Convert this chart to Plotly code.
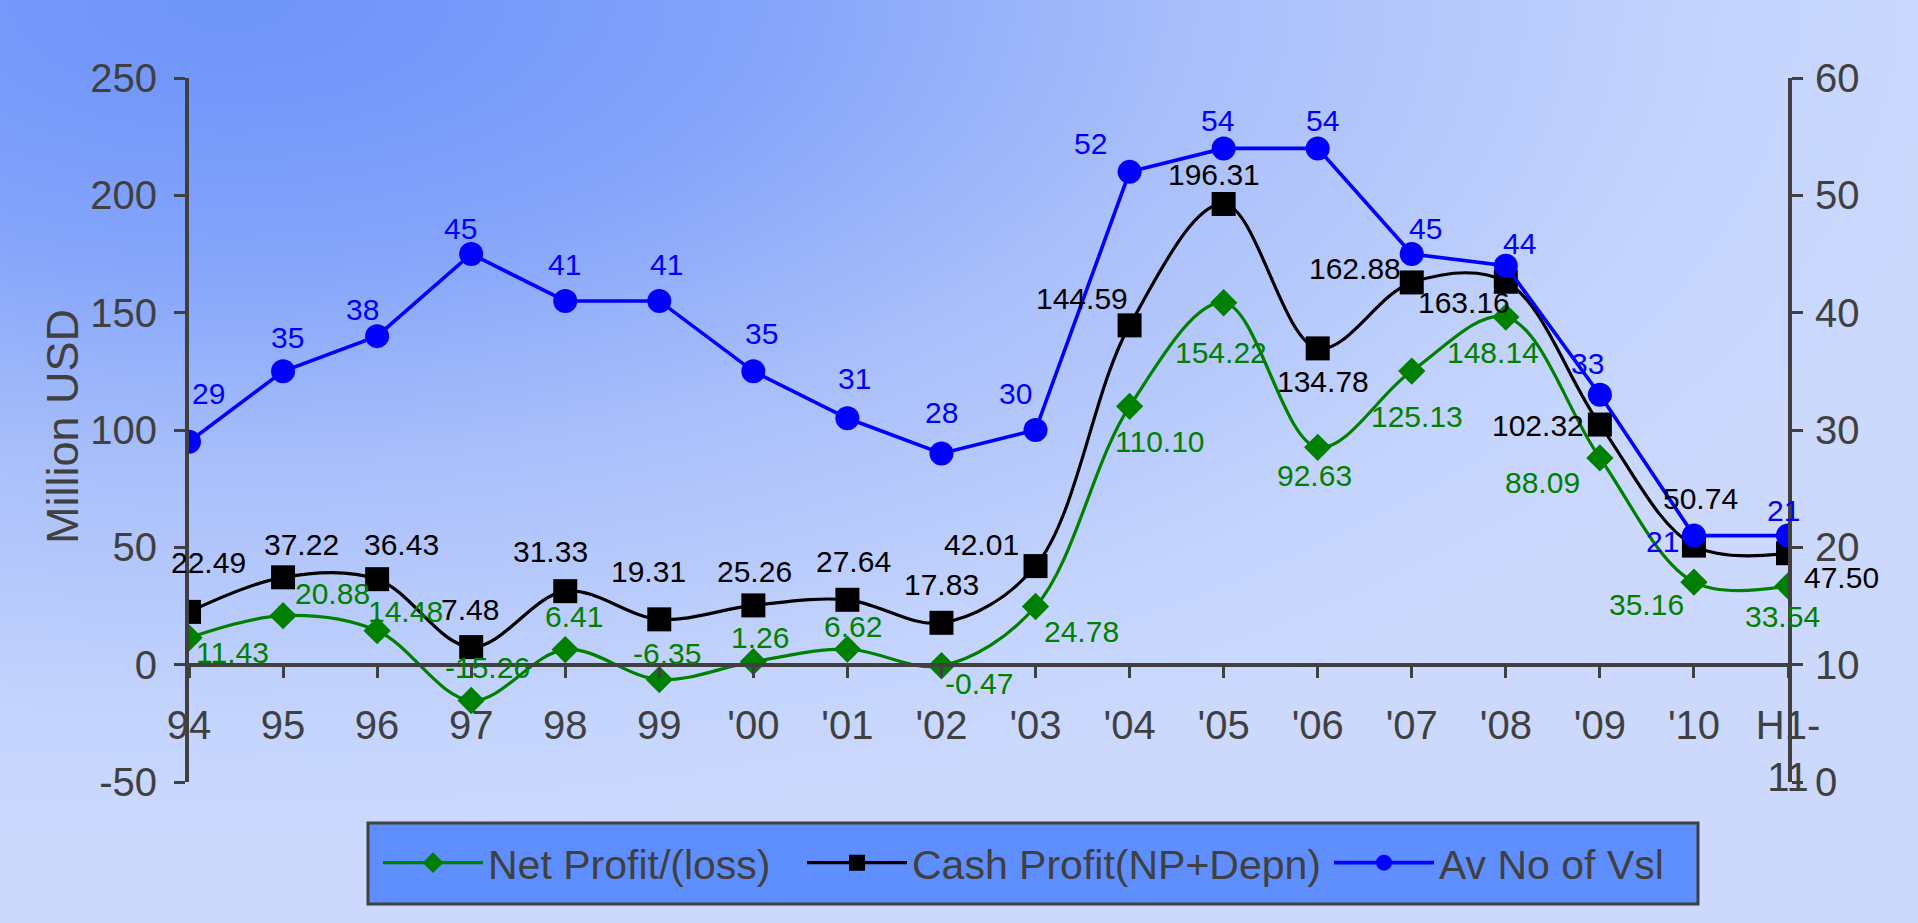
import base64
import plotly.graph_objects as go

# ---- data -------------------------------------------------------------
categories = ["94", "95", "96", "97", "98", "99", "'00", "'01", "'02", "'03",
              "'04", "'05", "'06", "'07", "'08", "'09", "'10", "H1-11"]
net_profit = [11.43, 20.88, 14.48, -15.26, 6.41, -6.35, 1.26, 6.62, -0.47, 24.78,
              110.10, 154.22, 92.63, 125.13, 148.14, 88.09, 35.16, 33.54]
cash_profit = [22.49, 37.22, 36.43, 7.48, 31.33, 19.31, 25.26, 27.64, 17.83, 42.01,
               144.59, 196.31, 134.78, 162.88, 163.16, 102.32, 50.74, 47.50]
vessels = [29, 35, 38, 45, 41, 41, 35, 31, 28, 30, 52, 54, 54, 45, 44, 33, 21, 21]

left_ticks = [-50, 0, 50, 100, 150, 200, 250]
right_ticks = [0, 10, 20, 30, 40, 50, 60]
tick_labels = [c.replace("H1-", "H1-<br>") for c in categories]

# ---- data-label placement (pixel offsets from each point: dx right, dy down)
net_label_offsets = [(43, 15), (49, -22), (28, -19), (16, -33), (9, -33), (8, -26),
                     (7, -24), (6, -23), (38, 18), (46, 25), (30, 35), (-3, 50),
                     (-3, 28), (5, 45), (-13, 35), (-57, 25), (-47, 22), (-6, 31)]
cash_label_offsets = [(19, -49), (18, -33), (24, -35), (-1, -38), (-15, -40), (-11, -48),
                      (1, -34), (6, -38), (0, -38), (-54, -22), (-48, -27), (-10, -29),
                      (5, 33), (-57, -14), (-42, 21), (-62, 1), (7, -47), (53, 24)]
vessel_label_offsets = [(19, -48), (4, -34), (-15, -27), (-11, -26), (-1, -36), (7, -36),
                        (8, -38), (7, -40), (0, -41), (-20, -37), (-39, -28), (-6, -28),
                        (5, -28), (14, -26), (14, -22), (-12, -31), (-31, 6), (-5, -25)]

# ---- styling ----------------------------------------------------------
W, H = 1918, 923
M_L, M_R, M_T, M_B = 189, 130, 78, 141
AXIS_GREY = "#404040"
FONT = "Arial, Liberation Sans, sans-serif"
GREEN, BLACK, BLUE = "#008000", "#000000", "#0000FF"
LABEL_SIZE = 30

# soft blue radial wash behind the whole chart
bg_svg = (
    '<svg xmlns="http://www.w3.org/2000/svg" width="1918" height="923" '
    'viewBox="0 0 1918 923" preserveAspectRatio="none">'
    '<defs><radialGradient id="g" cx="0.12" cy="0" fx="0.12" fy="0" r="0.92">'
    '<stop offset="0" stop-color="#6f94f8"/>'
    '<stop offset="0.12" stop-color="#7499fa"/>'
    '<stop offset="0.3" stop-color="#84a4fa"/>'
    '<stop offset="0.55" stop-color="#a9bffb"/>'
    '<stop offset="0.85" stop-color="#c4d4fd"/>'
    '<stop offset="1" stop-color="#ccd9fd"/>'
    '</radialGradient></defs>'
    '<rect x="0" y="0" width="1918" height="923" fill="url(#g)"/></svg>'
)
bg_src = "data:image/svg+xml;base64," + base64.b64encode(bg_svg.encode()).decode()

plot_w = W - M_L - M_R
plot_h = H - M_T - M_B
plot_bottom = H - M_B
zero_frac = (0 - left_ticks[0]) / (left_ticks[-1] - left_ticks[0])


def px_x(px):
    """pixel column -> paper x"""
    return (px - M_L) / plot_w


def px_y(py):
    """pixel row -> paper y"""
    return (plot_bottom - py) / plot_h


fig = go.Figure()

fig.add_trace(go.Scatter(
    x=categories, y=net_profit, name="Net Profit/(loss)", mode="lines+markers",
    line=dict(color=GREEN, width=3.2, shape="spline", smoothing=1),
    marker=dict(symbol="diamond", size=21, color=GREEN),
    xaxis="x", yaxis="y", hoverinfo="skip", legend="legend",
))
fig.add_trace(go.Scatter(
    x=categories, y=cash_profit, name="Cash Profit(NP+Depn)", mode="lines+markers",
    line=dict(color=BLACK, width=3.2, shape="spline", smoothing=1),
    marker=dict(symbol="square", size=24, color=BLACK),
    xaxis="x", yaxis="y", hoverinfo="skip", legend="legend2",
))
fig.add_trace(go.Scatter(
    x=categories, y=vessels, name="Av No of Vsl", mode="lines+markers",
    line=dict(color=BLUE, width=3.6),
    marker=dict(symbol="circle", size=24, color=BLUE),
    xaxis="x", yaxis="y2", hoverinfo="skip", legend="legend3",
))

annotations = []


def add_labels(values, offsets, color, yref, fmt):
    for i, (v, (dx, dy)) in enumerate(zip(values, offsets)):
        annotations.append(dict(
            x=i, y=v, xref="x", yref=yref, text=fmt(v), showarrow=False,
            xshift=dx, yshift=-dy, xanchor="center", yanchor="middle",
            font=dict(family=FONT, size=LABEL_SIZE, color=color),
        ))


add_labels(net_profit, net_label_offsets, GREEN, "y", lambda v: f"{v:.2f}")
add_labels(cash_profit, cash_label_offsets, BLACK, "y", lambda v: f"{v:.2f}")
add_labels(vessels, vessel_label_offsets, BLUE, "y2", lambda v: f"{v:d}")

# left axis title
annotations.append(dict(
    text="Million USD", xref="paper", yref="paper", x=px_x(62), y=px_y(427),
    textangle=-90, showarrow=False, xanchor="center", yanchor="middle",
    font=dict(family=FONT, size=45, color=AXIS_GREY),
))

axis_common = dict(showgrid=False, zeroline=False, tickcolor=AXIS_GREY, tickwidth=3,
                   ticklen=11, tickfont=dict(family=FONT, size=40, color=AXIS_GREY))

legend_common = dict(
    orientation="h", xanchor="left", yanchor="middle", y=px_y(863),
    bgcolor="rgba(0,0,0,0)", borderwidth=0,
    font=dict(family=FONT, size=41, color=AXIS_GREY),
    itemwidth=100, itemsizing="trace",
)

fig.update_layout(
    width=W, height=H,
    margin=dict(l=M_L, r=M_R, t=M_T, b=M_B, pad=0),
    paper_bgcolor="#b4c8fc",
    plot_bgcolor="rgba(0,0,0,0)",
    images=[dict(source=bg_src, xref="paper", yref="paper",
                 x=-M_L / plot_w, y=1 + M_T / plot_h,
                 sizex=W / plot_w, sizey=H / plot_h,
                 xanchor="left", yanchor="top", sizing="stretch", layer="below")],
    shapes=[dict(type="rect", xref="paper", yref="paper",
                 x0=px_x(368), x1=px_x(1698), y0=px_y(904), y1=px_y(823),
                 fillcolor="#5f8eff", line=dict(color=AXIS_GREY, width=3), layer="above")],
    xaxis=dict(
        type="category", categoryorder="array", categoryarray=categories,
        range=[0, len(categories) - 1], domain=[0, 1],
        anchor="free", position=zero_frac,
        showline=True, linecolor=AXIS_GREY, linewidth=4,
        ticks="outside", tickmode="array", tickvals=categories, ticktext=tick_labels,
        ticklabelstandoff=13, **axis_common,
    ),
    xaxis2=dict(
        overlaying="x", anchor="free", position=zero_frac,
        range=[0, len(categories) - 1], tickmode="linear", tick0=0, dtick=1,
        ticks="inside", showticklabels=False, showline=False,
        **axis_common,
    ),
    yaxis=dict(
        range=[left_ticks[0], left_ticks[-1]], tickmode="array", tickvals=left_ticks,
        ticktext=[str(t) for t in left_ticks],
        anchor="x", side="left", domain=[0, 1],
        showline=True, linecolor=AXIS_GREY, linewidth=4,
        ticks="outside", ticklabelstandoff=9,
        **axis_common,
    ),
    yaxis2=dict(
        range=[right_ticks[0], right_ticks[-1]], tickmode="array", tickvals=right_ticks,
        overlaying="y", anchor="x", side="right",
        showline=True, linecolor=AXIS_GREY, linewidth=4,
        ticks="outside", ticklabelstandoff=4,
        **axis_common,
    ),
    yaxis3=dict(
        range=[left_ticks[0], left_ticks[-1]], tickmode="array", tickvals=left_ticks,
        overlaying="y", anchor="x", side="left",
        ticks="inside", showticklabels=False, showline=False, **axis_common,
    ),
    yaxis4=dict(
        range=[right_ticks[0], right_ticks[-1]], tickmode="array", tickvals=right_ticks,
        overlaying="y", anchor="x", side="right",
        ticks="inside", showticklabels=False, showline=False, **axis_common,
    ),
    legend=dict(x=px_x(378), **legend_common),
    legend2=dict(x=px_x(802), **legend_common),
    legend3=dict(x=px_x(1329), **legend_common),
    annotations=annotations,
    showlegend=True,
)

fig.write_html("out.html")
